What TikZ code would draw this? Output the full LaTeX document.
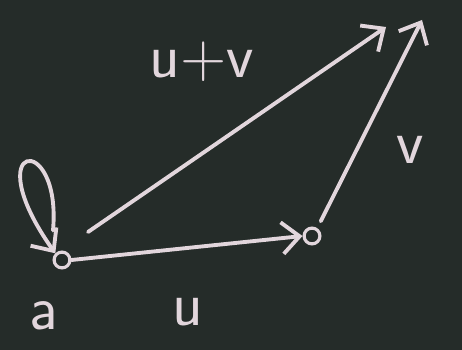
\documentclass[tikz,border=0pt]{standalone}
\usepackage{tikz}
\usetikzlibrary{arrows.meta}
\definecolor{board}{RGB}{37,44,41}
\definecolor{chalkc}{RGB}{226,214,220}
\tikzset{
    chalk/.style={draw=chalkc, line width=2.2pt, line cap=round, line join=round},
    chalkarrow/.style={chalk, -{Straight Barb[length=10pt, width=18pt, line width=2.2pt]}},
    pt/.style={circle, draw=chalkc, line width=1.8pt, inner sep=0pt, minimum size=9pt},
    lbl/.style={text=chalkc, font=\sffamily\fontsize{36}{38}\selectfont}
}

\begin{document}
\begin{tikzpicture}[x=0.02cm, y=-0.02cm]
    % Board
    \fill[board] (0,0) rectangle (462,350);
    \useasboundingbox (0,0) rectangle (462,350);

    % Points
    \node[pt] (a) at (62,260) {};
    \node[pt] (b) at (312,236) {};
    \coordinate (c) at (422,20);
    \coordinate (s) at (386,27);
    \coordinate (s0) at (88,232);

    % Vector u
    \draw[chalkarrow] (a.east) -- (b.west);
    \node[lbl] (ulbl) at (188,312) {u};

    % Vector v
    \draw[chalkarrow] (b.north east) ++(2,-8) -- (c);
    \node[lbl] (vlbl) at (410,150) {v};

    % Sum u+v
    \draw[chalkarrow] (s0) -- (s);
    \node[lbl] (slbl) at (202,62) {u+v};

    % Loop at a
    \draw[chalkarrow] (a.north) ++(-9,-20) .. controls (62,130) and (-25,140) .. (a.north west);
    \node[lbl] (albl) at (44,316) {a};
\end{tikzpicture}
\end{document}
